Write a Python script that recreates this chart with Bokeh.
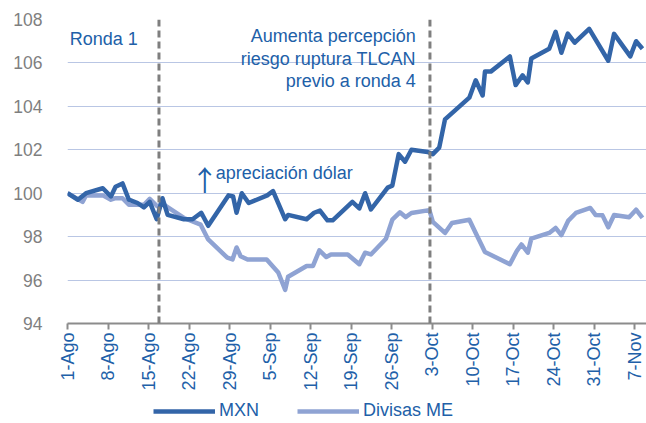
import math
from bokeh.plotting import figure
from bokeh.layouts import column
from bokeh.models import Range1d, FixedTicker, Span, Label, Legend, LegendItem
from bokeh.embed import file_html
from bokeh.resources import INLINE

# ---- data (x = days since 1-Ago) ----
dias_mxn = [0.0, 1.8, 3.2, 6.1, 7.5, 8.3, 9.5, 10.6, 12.1, 13.2, 14.2, 15.4, 16.4, 17.3, 20.1,
            21.6, 23.1, 24.3, 27.8, 28.6, 29.2, 30.1, 31.3, 34.5, 35.5, 37.6, 38.1, 41.3, 42.6,
            43.6, 44.9, 45.8, 49.2, 50.4, 51.4, 52.4, 55.3, 56.1, 57.2, 58.3, 59.4, 62.2, 63.1,
            64.2, 65.2, 69.4, 70.5, 71.7, 72.1, 73.1, 76.4, 77.4, 78.6, 79.5, 80.1, 83.2, 84.3,
            85.3, 86.4, 87.6, 90.1, 93.4, 94.4, 97.2, 98.2, 99.3]
mxn = [100.0, 99.7, 100.0, 100.23, 99.85, 100.3, 100.45, 99.7, 99.55, 99.35, 99.6, 98.8, 99.77,
       99.0, 98.8, 98.8, 99.1, 98.5, 99.9, 99.85, 99.1, 100.0, 99.55, 99.9, 100.1, 98.8, 99.0,
       98.8, 99.1, 99.2, 98.75, 98.75, 99.6, 99.3, 100.0, 99.25, 100.26, 100.35, 101.8, 101.45,
       102.0, 101.9, 101.8, 102.1, 103.4, 104.4, 105.2, 104.5, 105.6, 105.6, 106.3, 104.98,
       105.43, 105.1, 106.2, 106.65, 107.43, 106.47, 107.35, 106.93, 107.57, 106.1, 107.34,
       106.3, 107.0, 106.65]

dias_me = [0.0, 2.6, 3.2, 6.1, 7.5, 8.3, 9.5, 10.6, 13.2, 14.2, 15.5, 16.5, 20.1, 23.0, 24.3,
           27.6, 28.5, 29.2, 29.9, 31.1, 34.4, 36.4, 37.6, 38.1, 41.3, 42.4, 43.5, 44.7, 45.5,
           48.4, 50.4, 51.4, 52.4, 55.0, 56.1, 57.4, 58.4, 59.4, 62.5, 63.1, 65.2, 66.4, 69.4,
           70.5, 72.1, 76.4, 77.6, 78.4, 79.5, 80.1, 83.2, 84.3, 85.3, 86.5, 87.8, 90.3, 91.2,
           92.4, 93.4, 94.4, 97.0, 98.2, 99.3]
divisas_me = [100.0, 99.6, 99.9, 99.9, 99.7, 99.77, 99.77, 99.47, 99.47, 99.74, 99.4, 99.5, 98.86,
              98.55, 97.87, 97.03, 96.95, 97.5, 97.1, 96.95, 96.95, 96.35, 95.55, 96.15, 96.65,
              96.65, 97.37, 97.06, 97.18, 97.18, 96.73, 97.26, 97.18, 97.9, 98.78, 99.12, 98.9,
              99.09, 99.22, 98.68, 98.17, 98.63, 98.78, 98.17, 97.29, 96.73, 97.34, 97.64, 97.26,
              97.91, 98.17, 98.4, 98.07, 98.74, 99.09, 99.32, 99.0, 98.98, 98.43, 99.0, 98.89,
              99.24, 98.86]

x_ticks = [0, 7, 14, 21, 28, 35, 42, 49, 56, 63, 70, 77, 84, 91, 98]
x_labels = ["1-Ago", "8-Ago", "15-Ago", "22-Ago", "29-Ago", "5-Sep", "12-Sep", "19-Sep",
            "26-Sep", "3-Oct", "10-Oct", "17-Oct", "24-Oct", "31-Oct", "7-Nov"]
y_ticks = [94, 96, 98, 100, 102, 104, 106, 108]
rondas = [15.8, 62.6]
series_names = ["MXN", "Divisas ME"]

FONT = "Liberation Sans"
C_MXN = "#3365A8"
C_ME = "#8FA3D3"
C_TXT = "#2160A8"

p = figure(width=646, height=393, output_backend="svg", toolbar_location=None,
           x_range=Range1d(0, 100), y_range=Range1d(94, 108),
           min_border_left=67, min_border_right=0, min_border_top=19, min_border_bottom=67)
p.outline_line_color = None
p.background_fill_color = "white"

# axes
p.xaxis.ticker = FixedTicker(ticks=x_ticks)
p.xaxis.major_label_overrides = {t: l for t, l in zip(x_ticks, x_labels)}
p.xaxis.major_label_orientation = math.pi / 2
p.xaxis.axis_line_color = "#8C8C8C"
p.xaxis.axis_line_width = 2
p.xaxis.major_tick_line_color = "#8C8C8C"
p.xaxis.major_tick_line_width = 2
p.xaxis.major_tick_out = 6
p.xaxis.major_tick_in = 0
p.xaxis.minor_tick_line_color = None
p.xaxis.major_label_standoff = 3
p.xaxis.major_label_text_color = C_TXT
p.xaxis.major_label_text_font = FONT
p.xaxis.major_label_text_font_size = "18px"

p.yaxis.ticker = FixedTicker(ticks=y_ticks)
p.yaxis.axis_line_color = None
p.yaxis.major_tick_line_color = None
p.yaxis.minor_tick_line_color = None
p.yaxis.major_tick_out = 0
p.yaxis.major_tick_in = 0
p.yaxis.major_label_standoff = 25
p.yaxis.major_label_text_color = "#7F7F7F"
p.yaxis.major_label_text_font = FONT
p.yaxis.major_label_text_font_size = "17.5px"

p.xgrid.grid_line_color = None
p.ygrid.ticker = FixedTicker(ticks=y_ticks)
p.ygrid.grid_line_color = "#B9C6E4"
p.ygrid.grid_line_width = 1

# dashed vertical lines
for r in rondas:
    p.add_layout(Span(location=r, dimension="height", line_color="#7F7F7F",
                      line_width=3, line_dash="7 4"))

p.line(dias_me, divisas_me, line_color=C_ME, line_width=4.5, line_join="round")
p.line(dias_mxn, mxn, line_color=C_MXN, line_width=4.5, line_join="round")

# annotations
def lab(x, y, text, align="left", size="18px", font=FONT):
    p.add_layout(Label(x=x, y=y, text=text, text_align=align, text_baseline="alphabetic",
                       text_font=font, text_font_size=size, text_color=C_TXT))

lab(0.4, 107.08, "Ronda 1")
lab(60.15, 107.23, "Aumenta percepción", "right")
lab(60.15, 106.16, "riesgo ruptura TLCAN", "right")
lab(60.15, 105.17, "previo a ronda 4", "right")
lab(21.3, 100.65, "↑", size="28px", font="Noto Sans CJK JP")
lab(25.6, 100.91, "apreciación dólar")

# legend strip below (lines drawn off-range so only the legend shows)
pl = figure(width=646, height=30, output_backend="svg", toolbar_location=None,
            x_range=Range1d(0, 1), y_range=Range1d(0, 1),
            x_axis_type=None, y_axis_type=None,
            min_border_left=0, min_border_right=0, min_border_top=0, min_border_bottom=0)
pl.outline_line_color = None
pl.xgrid.grid_line_color = None
pl.ygrid.grid_line_color = None
l_mxn = pl.line(dias_mxn, mxn, line_color=C_MXN, line_width=4.5)
l_me = pl.line(dias_me, divisas_me, line_color=C_ME, line_width=4.5)

legend = Legend(items=[LegendItem(label=series_names[0], renderers=[l_mxn]),
                       LegendItem(label=series_names[1], renderers=[l_me])],
                location=(86, 2), orientation="horizontal",
                glyph_width=62, glyph_height=20, label_standoff=4, spacing=38,
                padding=0, margin=0, border_line_color=None, background_fill_alpha=0,
                label_text_font=FONT, label_text_font_size="18px", label_text_color=C_TXT)
pl.add_layout(legend)

open("out.html", "w").write(file_html(column(p, pl, spacing=0), INLINE))
